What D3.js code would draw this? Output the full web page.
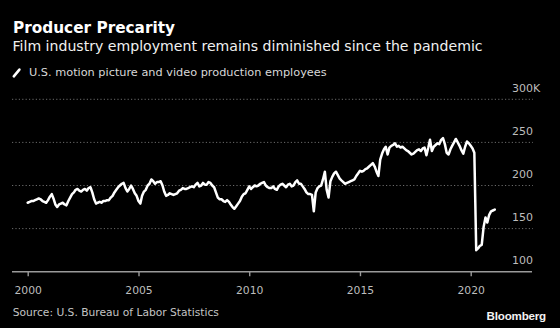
<!DOCTYPE html>
<html><head><meta charset="utf-8">
<script src="https://cdn.jsdelivr.net/npm/d3@7"></script>
<style>
  html, body { margin: 0; padding: 0; background: #000; }
  svg { display: block; }
</style></head>
<body>
<svg id="chart" width="560" height="328"></svg>
<script>
// U.S. motion picture and video production employees, thousands, monthly from Jan 2000
const startMonth = "2000-01";
const employees = [
  180, 181, 182, 182, 183, 184, 185, 184, 182, 181, 180, 183, // 2000
  187, 190, 185, 178, 175, 178, 179, 180, 178, 177, 182, 186, // 2001
  190, 192, 195, 196, 194, 193, 195, 196, 194, 197, 198, 192, // 2002
  184, 179, 180, 181, 180, 182, 182, 183, 183, 186, 188, 192, // 2003
  195, 198, 200, 202, 203, 197, 193, 196, 200, 196, 191, 188, // 2004
  182, 179, 188, 193, 195, 200, 202, 207, 205, 202, 204, 204, // 2005
  205, 200, 193, 188, 189, 191, 190, 189, 190, 191, 194, 195, // 2006
  197, 196, 196, 197, 198, 199, 198, 201, 203, 199, 200, 203, // 2007
  201, 201, 204, 203, 200, 198, 192, 186, 184, 184, 182, 181, // 2008
  183, 181, 178, 175, 173, 176, 179, 182, 187, 190, 191, 195, // 2009
  199, 196, 198, 200, 199, 200, 202, 203, 204, 200, 198, 197, // 2010
  197, 199, 196, 195, 199, 201, 202, 200, 198, 201, 202, 199, // 2011
  200, 204, 206, 202, 202, 199, 196, 192, 190, 190, 189, 170, // 2012
  192, 197, 199, 200, 207, 216, 195, 186, 205, 210, 214, 216, // 2013
  212, 208, 206, 204, 202, 203, 204, 205, 206, 207, 211, 214, // 2014
  217, 216, 217, 219, 220, 222, 224, 226, 222, 216, 211, 230, // 2015
  237, 242, 245, 236, 244, 246, 247, 249, 245, 246, 244, 245, // 2016
  243, 241, 240, 238, 236, 237, 239, 241, 242, 240, 243, 244, // 2017
  235, 244, 253, 240, 245, 247, 249, 248, 253, 255, 248, 238, // 2018
  236, 242, 246, 250, 254, 250, 246, 241, 237, 245, 251, 249, // 2019
  246, 243, 238, 125, 127, 130, 131, 152, 163, 157, 166, 170, // 2020
  171, 172                                                    // 2021
];
const yTicks = [100, 150, 200, 250, 300];
const yTickLabels = ["100", "150", "200", "250", "300K"];
const xTickYears = [2000, 2005, 2010, 2015, 2020];

const title = "Producer Precarity";
const subtitle = "Film industry employment remains diminished since the pandemic";
const legendLabel = "U.S. motion picture and video production employees";
const source = "Source: U.S. Bureau of Labor Statistics";
const brand = "Bloomberg";

const FONT = "'DejaVu Sans', sans-serif";
const svg = d3.select("#chart");

const parseMonth = d3.timeParse("%Y-%m");
const first = parseMonth(startMonth);
const data = employees.map((v, i) => ({ date: d3.timeMonth.offset(first, i), value: v }));

const x = d3.scaleTime()
  .domain([new Date(2000, 0, 1), new Date(2020, 0, 1)])
  .range([27.7, 470.7]);
const y = d3.scaleLinear().domain([100, 300]).range([271.7, 99.3]);

const gridLeft = 12, gridRight = 533;

// header
svg.append("text").attr("x", 13).attr("y", 32.7)
  .attr("font-family", FONT).attr("font-weight", "bold").attr("font-size", 15.3)
  .attr("fill", "#fff").text(title);
svg.append("text").attr("x", 12.5).attr("y", 50.7)
  .attr("font-family", FONT).attr("font-size", 14.1)
  .attr("fill", "#f0f0f0").text(subtitle);

// legend
svg.append("line").attr("x1", 13.8).attr("y1", 76.3).attr("x2", 19.4).attr("y2", 69.6)
  .attr("stroke", "#fff").attr("stroke-width", 2.6).attr("stroke-linecap", "round");
svg.append("text").attr("x", 29).attr("y", 76)
  .attr("font-family", FONT).attr("font-size", 11.3)
  .attr("fill", "#d8d8d8").text(legendLabel);

// horizontal dotted grid
svg.append("g").selectAll("line")
  .data(yTicks.filter(d => d > 100))
  .join("line")
  .attr("x1", gridLeft).attr("x2", gridRight)
  .attr("y1", d => y(d)).attr("y2", d => y(d))
  .attr("stroke", "#6a6a6a").attr("stroke-width", 1)
  .attr("stroke-dasharray", "1.2,2.2");

// y labels sit above their gridlines at the right
svg.append("g").selectAll("text")
  .data(yTicks)
  .join("text")
  .attr("x", 512).attr("y", d => y(d) - 7.6)
  .attr("font-family", FONT).attr("font-size", 11)
  .attr("fill", "#bdbdbd")
  .text((d, i) => yTickLabels[i]);

// x axis
const xAxis = d3.axisBottom(x)
  .tickValues(xTickYears.map(yr => new Date(yr, 0, 1)))
  .tickFormat(d3.timeFormat("%Y"))
  .tickSize(4.5)
  .tickSizeOuter(0);
const gx = svg.append("g").attr("transform", `translate(0,${y(100)})`).call(xAxis);
gx.select(".domain").remove();
gx.append("line").attr("x1", gridLeft).attr("x2", 532).attr("y1", 0).attr("y2", 0)
  .attr("stroke", "#9a9a9a").attr("stroke-width", 1.6);
gx.selectAll(".tick line").attr("stroke", "#9a9a9a").attr("stroke-width", 1.4);
gx.selectAll(".tick text")
  .attr("y", 22.3).attr("dy", null)
  .attr("font-family", FONT).attr("font-size", 10.8)
  .attr("fill", "#bdbdbd");

// series line
const line = d3.line().x(d => x(d.date)).y(d => y(d.value)).curve(d3.curveLinear);
svg.append("path").datum(data)
  .attr("d", line)
  .attr("fill", "none").attr("stroke", "#fff")
  .attr("stroke-width", 2.5).attr("stroke-linejoin", "round").attr("stroke-linecap", "round");

// footer
svg.append("text").attr("x", 12.7).attr("y", 315.7)
  .attr("font-family", FONT).attr("font-size", 10.7)
  .attr("fill", "#c4c4c4").text(source);
svg.append("text").attr("x", 546).attr("y", 319.5).attr("text-anchor", "end")
  .attr("font-family", "'Liberation Sans', Arial, sans-serif").attr("font-weight", "bold")
  .attr("font-size", 11.6).attr("letter-spacing", -0.2)
  .attr("fill", "#f2f2f2").text(brand);
</script>
</body></html>
